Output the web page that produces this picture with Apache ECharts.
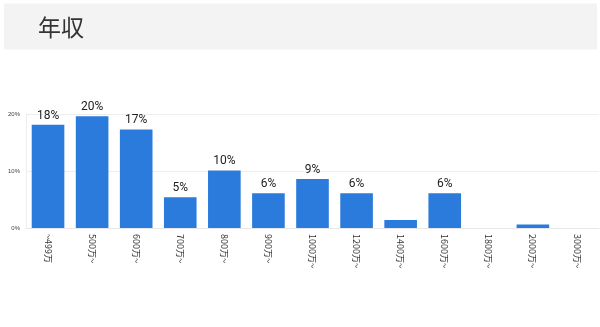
<!DOCTYPE html>
<html>
<head>
<meta charset="utf-8">
<script src="https://cdn.jsdelivr.net/npm/echarts@6/dist/echarts.min.js"></script>
<style>
html,body{margin:0;padding:0;background:#fff;}
#c{width:600px;height:327px;}
</style>
</head>
<body>
<div id="c"></div>
<script>
const titleText = '年収';
const categories = ['~499万','500万~','600万~','700万~','800万~','900万~','1000万~','1200万~','1400万~','1600万~','1800万~','2000万~','3000万~'];
const values = [18.1, 19.6, 17.3, 5.4, 10.1, 6.1, 8.6, 6.1, 1.4, 6.1, 0, 0.6, 0];
const yTicks = [0, 10, 20];

const chart = echarts.init(document.getElementById('c'), null, {renderer: 'canvas'});
chart.setOption({
  animation: false,
  graphic: [{
    type: 'rect',
    shape: {x: 4, y: 3.5, width: 593, height: 46},
    style: {fill: '#f3f3f3'},
    z: -1
  }],
  title: {
    text: titleText,
    left: 33,
    top: 11,
    textStyle: {fontSize: 23, fontWeight: 'normal', color: '#333', fontFamily: '"Noto Sans CJK JP", sans-serif'}
  },
  grid: {left: 26, right: 1, top: 114, bottom: 99, containLabel: false},
  xAxis: {
    type: 'category',
    data: categories,
    axisLine: {show: true, lineStyle: {color: '#e6e6e6', type: 'dotted'}},
    axisTick: {show: false},
    axisLabel: {
      rotate: -90,
      interval: 0,
      margin: 6,
      fontSize: 9,
      color: '#333',
      fontFamily: '"Noto Sans CJK JP", sans-serif'
    }
  },
  yAxis: {
    type: 'value',
    min: yTicks[0],
    max: yTicks[yTicks.length - 1],
    interval: 10,
    axisLine: {show: true, lineStyle: {color: '#eeeeee'}},
    axisTick: {show: false},
    splitLine: {lineStyle: {color: '#eeeeee'}},
    axisLabel: {
      fontSize: 6,
      color: '#444',
      margin: 6,
      formatter: v => v + '%'
    }
  },
  series: [{
    type: 'bar',
    data: values,
    barCategoryGap: '26%',
    itemStyle: {color: '#2a7bdb'},
    label: {
      show: true,
      position: 'top',
      distance: 3,
      fontSize: 12,
      color: '#222',
      fontFamily: 'Roboto, "Noto Sans", sans-serif',
      formatter: p => p.value >= 2 ? Math.round(p.value) + '%' : ''
    }
  }]
});
</script>
</body>
</html>
